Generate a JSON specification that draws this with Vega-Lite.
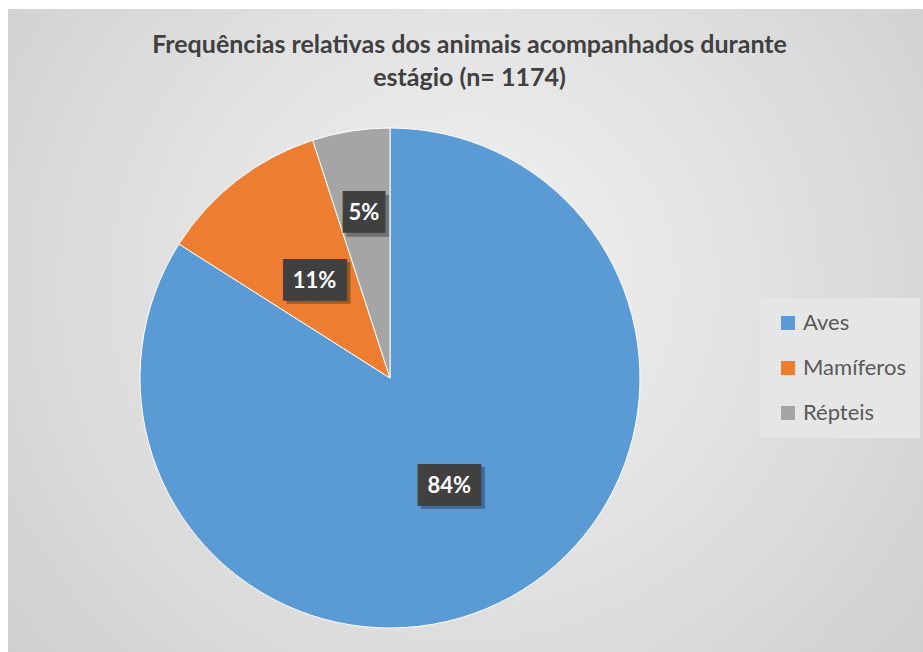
{
  "$schema": "https://vega.github.io/schema/vega-lite/v6.json",
  "width": 923,
  "height": 652,
  "autosize": {"type": "fit", "contains": "padding"},
  "padding": {"left": 8, "top": 9, "right": 0, "bottom": 0},
  "background": "white",
  "config": {"view": {"stroke": null}},
  "title": {
    "text": ["Frequências relativas dos animais acompanhados durante", "estágio (n= 1174)"],
    "font": "Lato",
    "fontSize": 25,
    "fontWeight": "bold",
    "color": "#404040",
    "anchor": "middle",
    "frame": "group",
    "baseline": "top",
    "lineHeight": 33,
    "dx": 4,
    "offset": -82
  },
  "data": {
    "values": [
      {"animal": "Aves", "share": 0.84},
      {"animal": "Mamíferos", "share": 0.11},
      {"animal": "Répteis", "share": 0.05}
    ]
  },
  "layer": [
    {
      "data": {"values": [{}]},
      "mark": {
        "type": "rect",
        "fill": {
          "gradient": "radial",
          "x1": 0.5, "y1": 0.45, "r1": 0,
          "x2": 0.5, "y2": 0.45, "r2": 0.72,
          "stops": [
            {"offset": 0, "color": "#f3f3f3"},
            {"offset": 1, "color": "#cbcbcb"}
          ]
        }
      },
      "encoding": {}
    },
    {
      "mark": {"type": "arc", "outerRadius": 250, "xOffset": -75.5, "yOffset": 47.5, "stroke": "#ffffff", "strokeWidth": 1},
      "encoding": {
        "theta": {"field": "share", "type": "quantitative", "stack": true},
        "order": {"field": "animal", "type": "nominal", "sort": "ascending"},
        "color": {
          "field": "animal",
          "type": "nominal",
          "scale": {"domain": ["Aves", "Mamíferos", "Répteis"], "range": ["#5b9bd5", "#ed7d31", "#a5a5a5"]},
          "legend": {
            "title": null,
            "orient": "none",
            "legendX": 752,
            "legendY": 289,
            "fillColor": "#e6e6e6",
            "padding": 14,
            "symbolOffset": 3,
            "symbolType": "square",
            "symbolSize": 196,
            "symbolStrokeWidth": 0,
            "labelFont": "Lato",
            "labelFontSize": 22,
            "labelColor": "#595959",
            "labelOffset": 4,
            "rowPadding": 23
          }
        }
      }
    },
    {
      "mark": {"type": "text", "font": "DejaVu Sans Mono", "fontSize": 35, "align": "center", "baseline": "middle", "fill": "#000000", "opacity": 0.3, "radius": 123, "xOffset": -72, "yOffset": 51},
      "encoding": {
        "theta": {"field": "share", "type": "quantitative", "stack": true},
        "order": {"field": "animal", "type": "nominal", "sort": "ascending"},
        "detail": {"field": "animal", "type": "nominal"},
        "text": {"condition": {"test": "datum.animal === 'Répteis'", "value": ""}, "value": "███"}
      }
    },
    {
      "mark": {"type": "text", "font": "DejaVu Sans Mono", "fontSize": 35, "align": "center", "baseline": "middle", "fill": "#000000", "opacity": 0.3, "radius": 167, "xOffset": -72, "yOffset": 51},
      "encoding": {
        "theta": {"field": "share", "type": "quantitative", "stack": true},
        "order": {"field": "animal", "type": "nominal", "sort": "ascending"},
        "detail": {"field": "animal", "type": "nominal"},
        "text": {"condition": {"test": "datum.animal === 'Répteis'", "value": "██"}, "value": ""}
      }
    },
    {
      "mark": {"type": "text", "font": "DejaVu Sans Mono", "fontSize": 35, "align": "center", "baseline": "middle", "fill": "#404040", "radius": 123, "xOffset": -75.5, "yOffset": 47.5},
      "encoding": {
        "theta": {"field": "share", "type": "quantitative", "stack": true},
        "order": {"field": "animal", "type": "nominal", "sort": "ascending"},
        "detail": {"field": "animal", "type": "nominal"},
        "text": {"condition": {"test": "datum.animal === 'Répteis'", "value": ""}, "value": "███"}
      }
    },
    {
      "mark": {"type": "text", "font": "DejaVu Sans Mono", "fontSize": 35, "align": "center", "baseline": "middle", "fill": "#404040", "radius": 167, "xOffset": -75.5, "yOffset": 47.5},
      "encoding": {
        "theta": {"field": "share", "type": "quantitative", "stack": true},
        "order": {"field": "animal", "type": "nominal", "sort": "ascending"},
        "detail": {"field": "animal", "type": "nominal"},
        "text": {"condition": {"test": "datum.animal === 'Répteis'", "value": "██"}, "value": ""}
      }
    },
    {
      "mark": {"type": "text", "font": "Lato", "fontSize": 22, "fontWeight": "bold", "align": "center", "baseline": "middle", "fill": "#ffffff", "radius": 123, "xOffset": -75.5, "yOffset": 47.5},
      "encoding": {
        "theta": {"field": "share", "type": "quantitative", "stack": true},
        "order": {"field": "animal", "type": "nominal", "sort": "ascending"},
        "detail": {"field": "animal", "type": "nominal"},
        "text": {"condition": {"test": "datum.animal === 'Répteis'", "value": ""}, "field": "share", "type": "quantitative", "format": ".0%"}
      }
    },
    {
      "mark": {"type": "text", "font": "Lato", "fontSize": 22, "fontWeight": "bold", "align": "center", "baseline": "middle", "fill": "#ffffff", "radius": 167, "xOffset": -75.5, "yOffset": 47.5},
      "encoding": {
        "theta": {"field": "share", "type": "quantitative", "stack": true},
        "order": {"field": "animal", "type": "nominal", "sort": "ascending"},
        "detail": {"field": "animal", "type": "nominal"},
        "text": {"condition": {"test": "datum.animal !== 'Répteis'", "value": ""}, "field": "share", "type": "quantitative", "format": ".0%"}
      }
    }
  ]
}
